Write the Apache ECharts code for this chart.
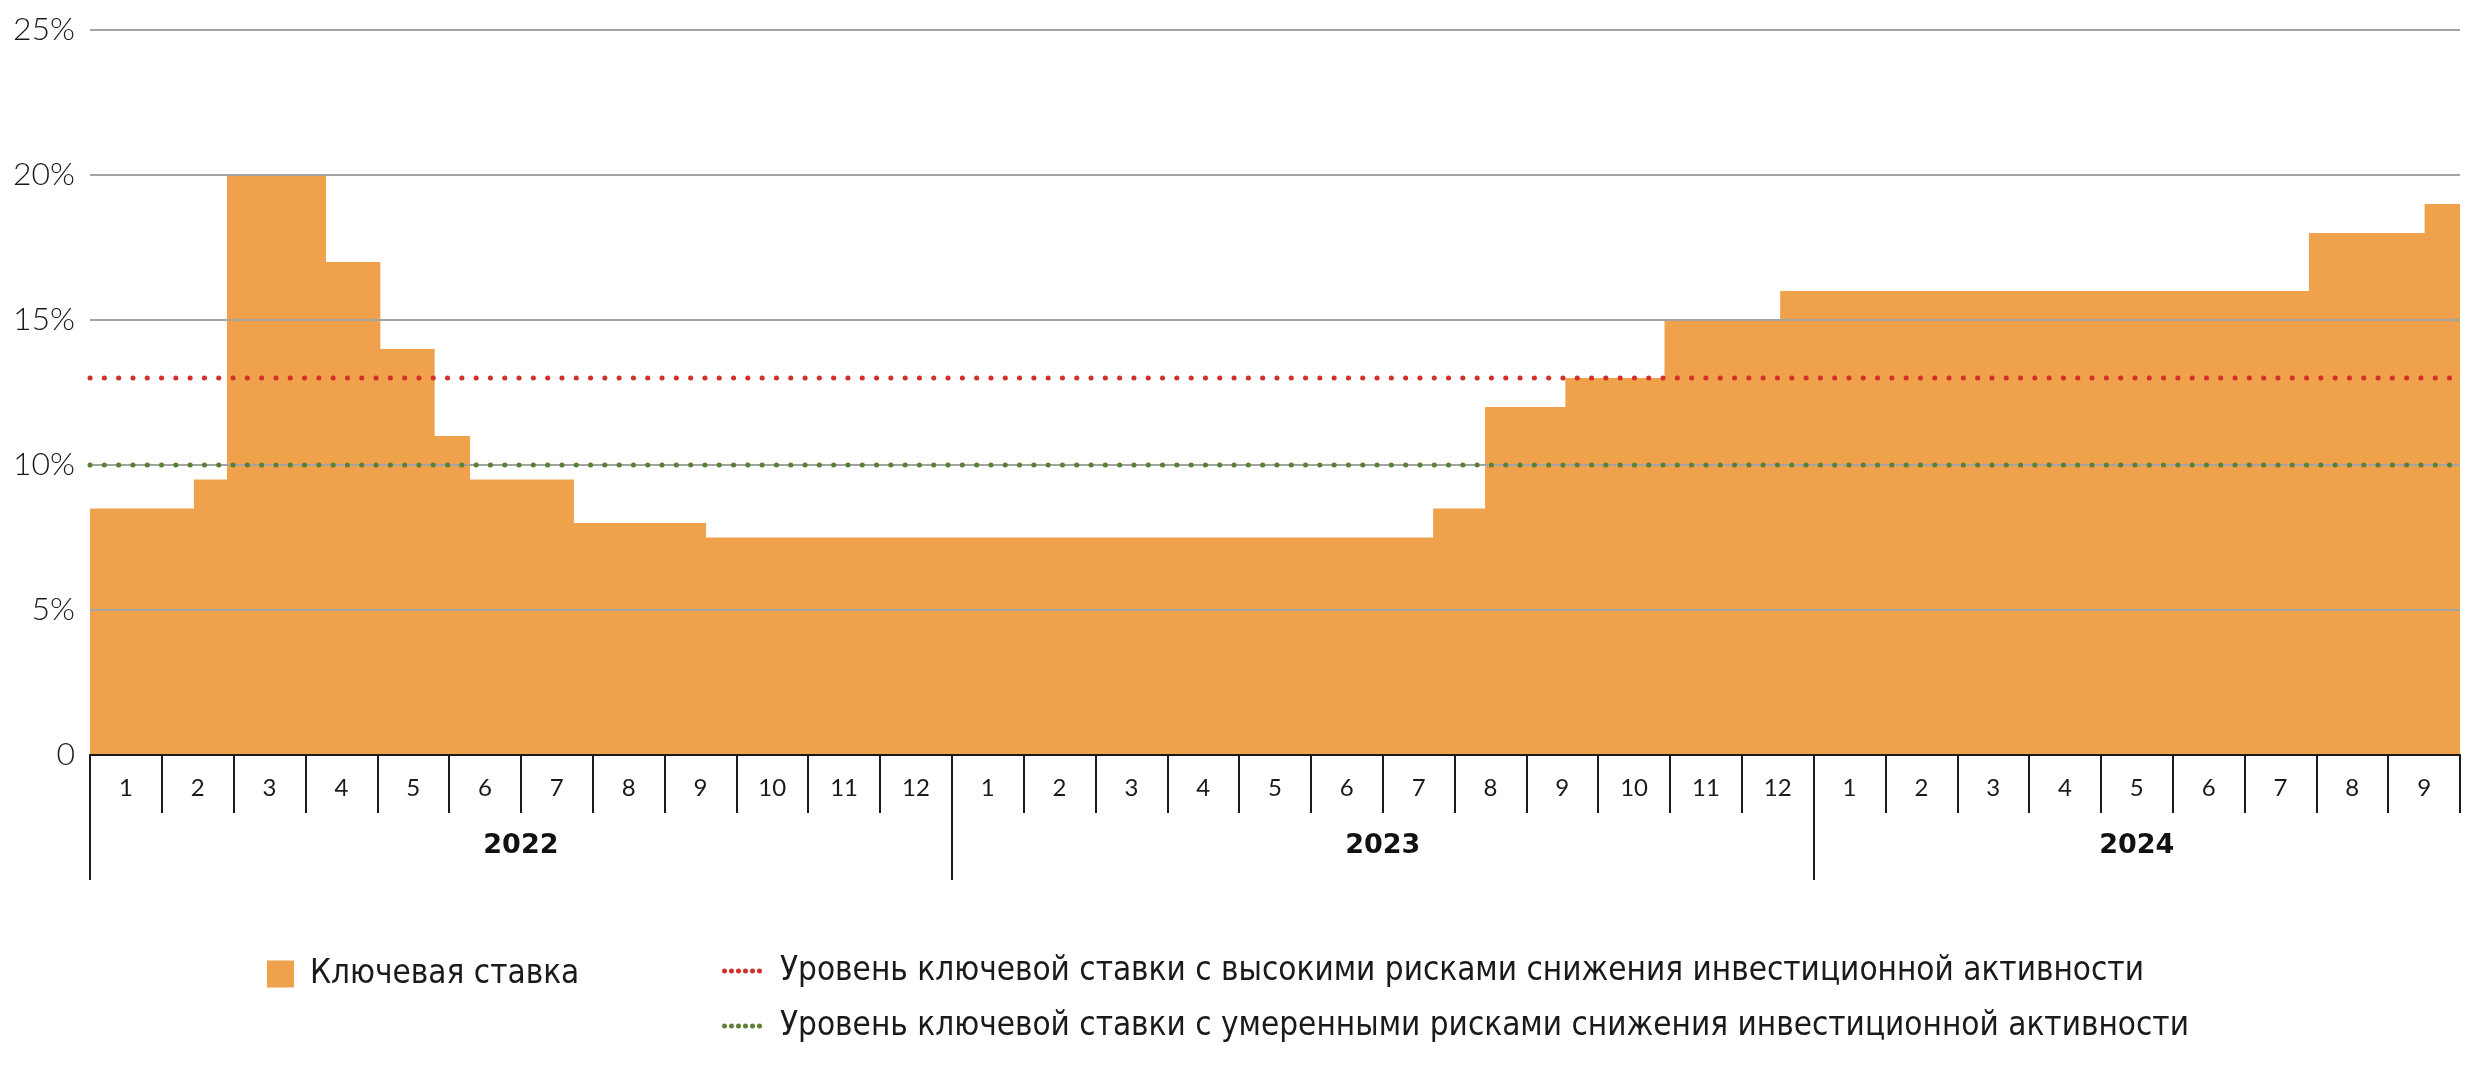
<!DOCTYPE html>
<html>
<head>
<meta charset="utf-8">
<script src="https://cdn.jsdelivr.net/npm/echarts@6/dist/echarts.min.js"></script>
<style>
html,body{margin:0;padding:0;background:#fff;}
#chart{width:2470px;height:1070px;}
</style>
</head>
<body>
<div id="chart"></div>
<script>
// ---- data ----
const rateDates = ['2022-01-01','2022-02-14','2022-02-28','2022-04-11','2022-05-04','2022-05-27','2022-06-11','2022-07-25','2022-09-19','2023-07-24','2023-08-15','2023-09-18','2023-10-30','2023-12-18','2024-07-29','2024-09-16','2024-10-01'];
const rateValues = [8.5, 9.5, 20, 17, 14, 11, 9.5, 8, 7.5, 8.5, 12, 13, 15, 16, 18, 19, 19];
const highRiskLevel = 13;
const moderateRiskLevel = 10;
const monthLabels = ['1','2','3','4','5','6','7','8','9','10','11','12','1','2','3','4','5','6','7','8','9','10','11','12','1','2','3','4','5','6','7','8','9'];
const yearLabels = ['2022','2023','2024'];
const monthsPerYear = [12, 12, 9];
const yTicks = [0, 5, 10, 15, 20, 25];
const seriesNames = ['Ключевая ставка','Уровень ключевой ставки с высокими рисками снижения инвестиционной активности','Уровень ключевой ставки с умеренными рисками снижения инвестиционной активности'];
const startDate = '2022-01-01', endDate = '2024-10-01';

// half-month positions for year labels / separators
const halfCount = monthLabels.length * 2 + 1;
const yearAxisData = new Array(halfCount).fill('');
const yearBoundaries = [];
let acc = 0;
yearLabels.forEach((y, i) => {
  yearBoundaries.push(acc * 2);
  yearAxisData[acc * 2 + monthsPerYear[i]] = y;
  acc += monthsPerYear[i];
});

// dotted legend icon: six small circles
let dotPath = 'path://';
for (let k = 0; k < 6; k++) {
  const cx = 0.5 + k * 1.4;
  dotPath += 'M' + (cx - 0.5) + ',0.5 A0.5,0.5 0 1,0 ' + (cx + 0.5) + ',0.5 A0.5,0.5 0 1,0 ' + (cx - 0.5) + ',0.5 Z ';
}

const ORANGE = '#F0A14C', RED = '#D42F2A', GREEN = '#5C7F34';
const FONT = 'Lato, "Open Sans", sans-serif';
const LEGEND_FONT = '"Liberation Sans Narrow", "DejaVu Sans Condensed", "Liberation Sans", sans-serif';

const chart = echarts.init(document.getElementById('chart'), null, {renderer: 'canvas'});
chart.setOption({
  animation: false,
  backgroundColor: '#fff',
  grid: {left: 90, right: 10, top: 30, height: 725, containLabel: false},
  xAxis: [
    {type: 'time', min: startDate, max: endDate, show: false},
    {type: 'category', data: monthLabels, position: 'bottom', boundaryGap: true, z: 6,
     axisLine: {show: true, lineStyle: {color: '#1a1a1a', width: 2}},
     axisTick: {show: true, length: 58, interval: 0, lineStyle: {color: '#1a1a1a', width: 2}},
     axisLabel: {interval: 0, margin: 21, fontSize: 24, color: '#1a1a1a', fontFamily: FONT},
     splitLine: {show: false}},
    {type: 'category', data: yearAxisData, position: 'bottom', boundaryGap: false, z: 6,
     axisLine: {show: false},
     axisTick: {show: true, length: 125, interval: (i) => yearBoundaries.includes(i), lineStyle: {color: '#1a1a1a', width: 2}},
     axisLabel: {interval: (i, v) => v !== '', margin: 77, fontSize: 27, fontWeight: 'bold', color: '#111', fontFamily: '"DejaVu Sans", sans-serif'},
     splitLine: {show: false}}
  ],
  yAxis: {
    type: 'value', min: yTicks[0], max: yTicks[yTicks.length - 1], interval: yTicks[1] - yTicks[0], z: 4,
    axisLine: {show: false}, axisTick: {show: false},
    axisLabel: {margin: 15, fontSize: 32, color: '#1a1a1a', fontFamily: FONT, fontWeight: 300,
      formatter: v => v === 0 ? '0' : v + '%'},
    splitLine: {show: true, lineStyle: {color: '#a3a3a3', width: 2}}
  },
  legend: [
    {data: [seriesNames[0]], left: 262, top: 952, itemWidth: 27, itemHeight: 27, icon: 'rect',
     textStyle: {fontSize: 33, lineHeight: 34, color: '#1a1a1a', fontFamily: LEGEND_FONT, padding: [0, 0, 0, 11]}},
    {data: [seriesNames[1], seriesNames[2]], orient: 'vertical', left: 717, top: 949, itemGap: 21,
     itemWidth: 40, itemHeight: 5, icon: dotPath,
     textStyle: {fontSize: 33, lineHeight: 34, color: '#1a1a1a', fontFamily: LEGEND_FONT, padding: [0, 0, 0, 13]}}
  ],
  series: [
    {name: seriesNames[0], type: 'line', xAxisIndex: 0, step: 'end', symbol: 'none', z: 2,
     itemStyle: {color: ORANGE},
     lineStyle: {width: 0, color: ORANGE},
     areaStyle: {color: ORANGE, opacity: 1},
     data: rateDates.map((d, i) => [d, rateValues[i]])},
    {name: seriesNames[1], type: 'line', xAxisIndex: 0, symbol: 'none', z: 10,
     itemStyle: {color: RED},
     lineStyle: {color: RED, width: 5, type: [0.1, 14.2], cap: 'round'},
     data: [[startDate, highRiskLevel], [endDate, highRiskLevel]]},
    {name: seriesNames[2], type: 'line', xAxisIndex: 0, symbol: 'none', z: 10,
     itemStyle: {color: GREEN},
     lineStyle: {color: GREEN, width: 5, type: [0.1, 14.2], cap: 'round'},
     data: [[startDate, moderateRiskLevel], [endDate, moderateRiskLevel]]}
  ]
});
</script>
</body>
</html>
